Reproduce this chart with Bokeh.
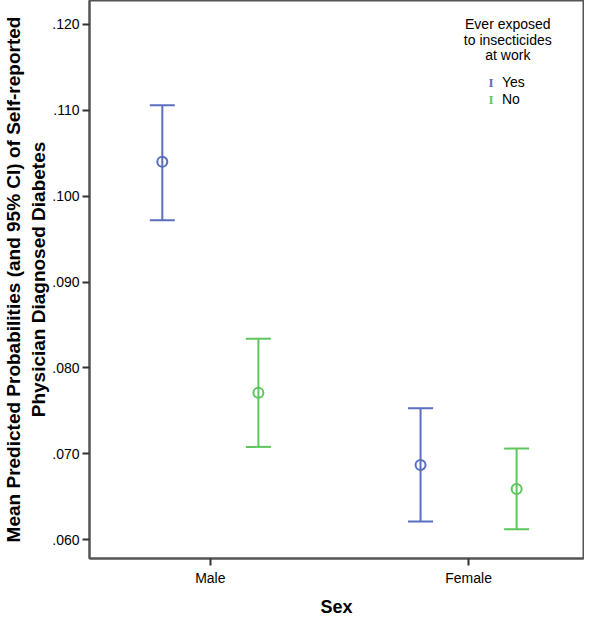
from bokeh.plotting import figure
from bokeh.models import (ColumnDataSource, Whisker, TeeHead, Range1d, FixedTicker, Label)
from bokeh.transform import dodge
from bokeh.embed import file_html
from bokeh.resources import INLINE

# ---- data ----
sex_levels = ["Male", "Female"]
sex = ["Male", "Male", "Female", "Female"]
exposed = ["Yes", "No", "Yes", "No"]
mean_prob = [0.1040, 0.0771, 0.0687, 0.0659]
lower_ci = [0.0972, 0.0708, 0.0621, 0.0612]
upper_ci = [0.1106, 0.0834, 0.0753, 0.0706]
y_ticks = [0.060, 0.070, 0.080, 0.090, 0.100, 0.110, 0.120]
y_tick_labels = [".060", ".070", ".080", ".090", ".100", ".110", ".120"]
legend_title = ["Ever exposed", "to insecticides", "at work"]
groups = ["Yes", "No"]
colors = {"Yes": "#5b6fbf", "No": "#5ec65e"}
offsets = {"Yes": -0.186, "No": 0.186}

FONT = "Liberation Sans"

p = figure(width=584, height=619, output_backend="svg", toolbar_location=None,
           x_range=Range1d(0.532, 2.445), y_range=Range1d(0.05780, 0.12279),
           min_border_left=80, min_border_right=1, min_border_top=0, min_border_bottom=59)

p.background_fill_color = "white"
p.border_fill_color = "white"
p.grid.visible = False
p.outline_line_color = "#555555"
p.outline_line_width = 2

for g in groups:
    idx = [i for i, e in enumerate(exposed) if e == g]
    src = ColumnDataSource(dict(
        x=[sex_levels.index(sex[i]) + 1 for i in idx],
        mean=[mean_prob[i] for i in idx],
        lower=[lower_ci[i] for i in idx],
        upper=[upper_ci[i] for i in idx],
    ))
    c = colors[g]
    w = Whisker(source=src, base=dodge("x", offsets[g]), upper="upper", lower="lower",
                dimension="height", line_color=c, line_width=2,
                upper_head=TeeHead(size=25, line_color=c, line_width=2),
                lower_head=TeeHead(size=25, line_color=c, line_width=2))
    p.add_layout(w)
    p.scatter(x=dodge("x", offsets[g]), y="mean", source=src, marker="circle", size=10,
              fill_color=None, line_color=c, line_width=2)

# axes
for ax in (p.xaxis[0], p.yaxis[0]):
    ax.axis_line_color = "#555555"
    ax.axis_line_width = 2
    ax.major_tick_line_color = "#333333"
    ax.major_tick_line_width = 2
    ax.major_tick_out = 7
    ax.major_tick_in = 0
    ax.minor_tick_line_color = None
    ax.major_label_text_font = FONT
    ax.major_label_text_font_size = "14px"
    ax.major_label_text_color = "black"
    ax.axis_label_text_font = FONT
    ax.axis_label_text_font_style = "bold"
    ax.axis_label_text_color = "black"

p.xaxis.ticker = FixedTicker(ticks=[i + 1 for i in range(len(sex_levels))])
p.xaxis.major_label_overrides = {i + 1: s for i, s in enumerate(sex_levels)}
p.xaxis.axis_label = "Sex"
p.xaxis.axis_label_text_font_size = "18px"
p.xaxis.major_label_standoff = 4
p.xaxis.axis_label_standoff = 8

p.yaxis.ticker = FixedTicker(ticks=y_ticks)
p.yaxis.major_label_overrides = {t: l for t, l in zip(y_ticks, y_tick_labels)}
p.yaxis.axis_label = "Mean Predicted Probabilities (and 95% CI) of Self-reported\nPhysician Diagnosed Diabetes"
p.yaxis.axis_label_text_font_size = "19px"
p.yaxis.major_label_standoff = 3
p.yaxis.axis_label_standoff = 0

# legend (manual)
lx = 2.152
ly = [0.1200, 0.1182, 0.1164]
for t, yy in zip(legend_title, ly):
    p.add_layout(Label(x=lx, y=yy, text=t, text_align="center", text_baseline="middle",
                       text_font=FONT, text_font_size="14px", text_color="black"))
item_y = {"Yes": 0.11327, "No": 0.11130}
for g in groups:
    p.add_layout(Label(x=2.087, y=item_y[g], text="I", text_align="center", text_baseline="middle",
                       text_font="Liberation Serif", text_font_size="13px", text_font_style="bold",
                       text_color=colors[g]))
    p.add_layout(Label(x=2.129, y=item_y[g], text=g, text_align="left", text_baseline="middle",
                       text_font=FONT, text_font_size="14px", text_color="black"))

open("out.html", "w").write(file_html(p, INLINE))
